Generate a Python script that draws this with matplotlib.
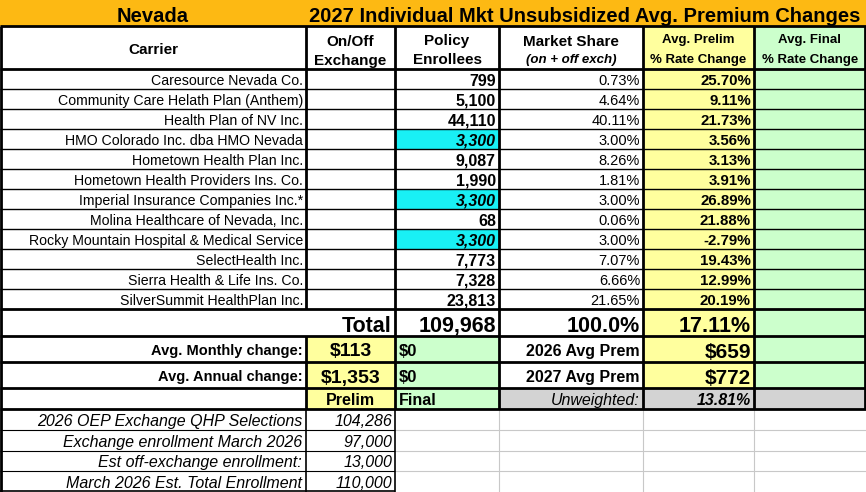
import matplotlib
matplotlib.use("Agg")
import matplotlib.pyplot as plt
from matplotlib.patches import Rectangle

plt.rcParams['font.family'] = ['Liberation Sans', 'DejaVu Sans']

carriers = ["Caresource Nevada Co.", "Community Care Helath Plan (Anthem)", "Health Plan of NV Inc.",
            "HMO Colorado Inc. dba HMO Nevada", "Hometown Health Plan Inc.", "Hometown Health Providers Ins. Co.",
            "Imperial Insurance Companies Inc.*", "Molina Healthcare of Nevada, Inc.",
            "Rocky Mountain Hospital & Medical Service", "SelectHealth Inc.", "Sierra Health & Life Ins. Co.",
            "SilverSummit HealthPlan Inc."]
enrollees = [799, 5100, 44110, 3300, 9087, 1990, 3300, 68, 3300, 7773, 7328, 23813]
estimated = [False, False, False, True, False, False, True, False, True, False, False, False]
market_share = [0.73, 4.64, 40.11, 3.00, 8.26, 1.81, 3.00, 0.06, 3.00, 7.07, 6.66, 21.65]
prelim_change = [25.70, 9.11, 21.73, 3.56, 3.13, 3.91, 26.89, 21.88, -2.79, 19.43, 12.99, 20.19]
total_enrollees = 109968
total_share = 100.0
total_prelim = 17.11
monthly_change = ["$113", "$0"]
annual_change = ["$1,353", "$0"]
avg_prem_labels = ["2026 Avg Prem", "2027 Avg Prem"]
avg_prem_values = ["$659", "$772"]
unweighted = 13.81
bottom_labels = ["2026 OEP Exchange QHP Selections", "Exchange enrollment March 2026",
                 "Est off-exchange enrollment:", "March 2026 Est. Total Enrollment"]
bottom_values = [104286, 97000, 13000, 110000]

W, H = 866, 492
fig = plt.figure(figsize=(W/100, H/100), dpi=100)
ax = fig.add_axes([0, 0, 1, 1])
ax.set_xlim(0, W); ax.set_ylim(H, 0); ax.axis('off')

X = [0, 306, 395, 499, 643, 754, 866]
ORANGE, YEL, GRN, CYAN, GRAY = '#FDB913', '#FFFF9E', '#CCFFCC', '#19F0F5', '#D3D3D3'

def cell(x0, x1, y0, y1, fc):
    ax.add_patch(Rectangle((x0, y0), x1 - x0, y1 - y0, facecolor=fc, edgecolor='none', zorder=1))

def txt(x, y, s, ha='center', size=9, bold=False, italic=False):
    ax.text(x, y, s, ha=ha, va='center_baseline', fontsize=size, fontweight='bold' if bold else 'normal',
            fontstyle='italic' if italic else 'normal', color='black', zorder=5)

def hl(y, x0, x1, lw=1.0, c='black'):
    ax.plot([x0, x1], [y, y], color=c, lw=lw, zorder=4, solid_capstyle='butt')

def vl(x, y0, y1, lw=1.0, c='black'):
    ax.plot([x, x], [y0, y1], color=c, lw=lw, zorder=4, solid_capstyle='butt')

# title
cell(0, W, 0, 26, ORANGE)
txt(153, 14, "Nevada", size=14.5, bold=True)
txt(585, 14, "2027 Individual Mkt Unsubsidized Avg. Premium Changes", size=14.5, bold=True)

# header
y0, y1 = 26, 69
cell(X[4], X[5], y0, y1, YEL); cell(X[5], X[6], y0, y1, GRN)
txt(153, 48, "Carrier", bold=True, size=11)
txt(350, 40, "On/Off", bold=True, size=11); txt(350, 59, "Exchange", bold=True, size=11)
txt(447, 40, "Policy", bold=True, size=11); txt(447, 59, "Enrollees", bold=True, size=11)
txt(571, 40, "Market Share", bold=True, size=11); txt(571, 58, "(on + off exch)", bold=True, italic=True, size=9.5)
txt(698, 39, "Avg. Prelim", bold=True, size=9.5); txt(698, 58, "% Rate Change", bold=True, size=9.5)
txt(810, 39, "Avg. Final", bold=True, size=9.5); txt(810, 58, "% Rate Change", bold=True, size=9.5)

# data rows
RH = 20
top = 69
for i, name in enumerate(carriers):
    a = top + i * RH; b = a + RH; m = (a + b) / 2 + 0.5
    cell(X[4], X[5], a, b, YEL); cell(X[5], X[6], a, b, GRN)
    if estimated[i]:
        cell(X[2], X[3], a, b, CYAN)
    txt(X[1] - 3, m, name, ha='right', size=10.2)
    txt(X[3] - 3, m, f"{enrollees[i]:,}", ha='right', size=11.5, bold=True, italic=estimated[i])
    txt(X[4] - 3, m, f"{market_share[i]:.2f}%", ha='right', size=10.5)
    txt(X[5] - 3, m, f"{prelim_change[i]:.2f}%", ha='right', size=10.8, bold=True)
    if i > 0:
        hl(a, 0, W, lw=1.0)
dend = top + len(carriers) * RH  # 309

# total row
a, b = dend, 336; m = (a + b) / 2 + 1
cell(X[4], X[5], a, b, YEL); cell(X[5], X[6], a, b, GRN)
txt(X[2] - 4, m, "Total", ha='right', size=15.5, bold=True)
txt(X[3] - 3, m, f"{total_enrollees:,}", ha='right', size=15.5, bold=True)
txt(X[4] - 3, m, f"{total_share:.1f}%", ha='right', size=15.5, bold=True)
txt(X[5] - 3, m, f"{total_prelim:.2f}%", ha='right', size=15.5, bold=True)

# monthly / annual rows
rows2 = [(336, 362, "Avg. Monthly change:", monthly_change, 0), (362, 388, "Avg. Annual change:", annual_change, 1)]
for a, b, lab, vals, k in rows2:
    m = (a + b) / 2 + 1
    cell(X[1], X[2], a, b, YEL); cell(X[2], X[3], a, b, GRN)
    cell(X[4], X[5], a, b, YEL); cell(X[5], X[6], a, b, GRN)
    txt(X[1] - 3, m, lab, ha='right', size=10.5, bold=True)
    txt((X[1] + X[2]) / 2, m, vals[0], size=14, bold=True)
    txt(X[2] + 4, m, vals[1], ha='left', size=12, bold=True)
    txt(X[4] - 3, m, avg_prem_labels[k], ha='right', size=11.5, bold=True)
    txt(X[5] - 3, m, avg_prem_values[k], ha='right', size=15, bold=True)

# prelim/final row
a, b = 388, 409; m = (a + b) / 2 + 0.5
cell(X[1], X[2], a, b, YEL); cell(X[2], X[3], a, b, GRN); cell(X[3], X[6], a, b, GRAY)
txt((X[1] + X[2]) / 2, m, "Prelim", size=11.5, bold=True)
txt(X[2] + 4, m, "Final", ha='left', size=11.5, bold=True)
txt(X[4] - 3, m, "Unweighted:", ha='right', size=11.5, italic=True)
txt(X[5] - 3, m, f"{unweighted:.2f}%", ha='right', size=11.5, bold=True, italic=True)

# bottom rows
bt = 409; BH = 20.75
for i, lab in enumerate(bottom_labels):
    a = bt + i * BH; b = a + BH; m = (a + b) / 2 + 0.5
    txt(X[1] - 4, m, lab, ha='right', size=11.5, italic=True)
    txt(X[2] - 3, m, f"{bottom_values[i]:,}", ha='right', size=11.5, italic=True)
    if i > 0:
        hl(a, 0, X[2], lw=0.8)
        hl(a, X[2], W, lw=0.8, c='#C8C8C8')
for x in X[3:6]:
    vl(x, 409, H, lw=0.8, c='#C8C8C8')

# thick frame lines
LW = 2.0
hl(26, 0, W, LW); hl(69, 0, W, LW); hl(dend, 0, W, LW); hl(336, 0, W, LW)
hl(362, 0, W, LW); hl(388, 0, W, LW); hl(409, 0, W, LW)
vl(1, 26, H, LW); vl(W - 1, 26, 409, LW)
vl(X[1], 26, dend, LW); vl(X[1], 336, 409, LW)
for x in X[2:6]:
    vl(x, 26, 409, LW)
vl(X[1], 409, H, 1.2); vl(X[2], 409, H, 1.2)
hl(H - 1, 0, X[2], 1.2)

fig.savefig("out.png", dpi=100)
